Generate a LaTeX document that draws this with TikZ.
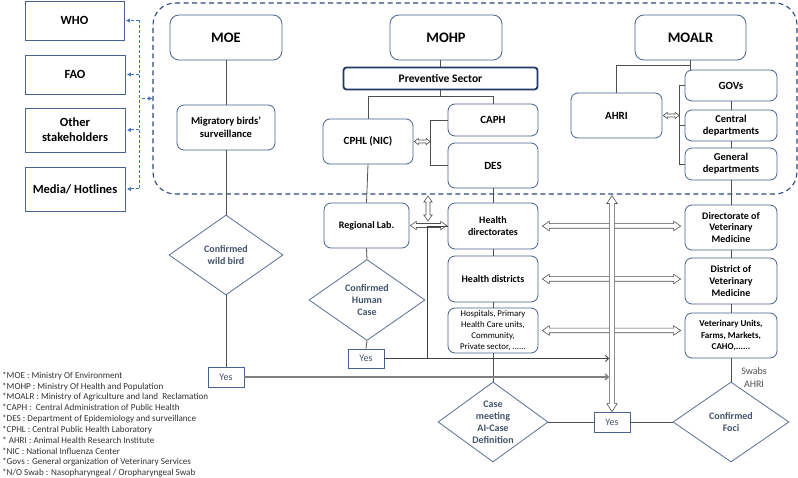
\documentclass[tikz,border=0pt]{standalone}
\usepackage{fontspec}
\setmainfont{Carlito}
\usetikzlibrary{shapes.geometric,arrows.meta,calc}
\definecolor{bord}{HTML}{4A6290}
\definecolor{navy}{HTML}{1F3864}
\definecolor{panelc}{HTML}{2F4A7A}
\definecolor{diab}{HTML}{5B6E96}
\definecolor{diat}{HTML}{44546A}
\definecolor{cgray}{HTML}{505050}
\definecolor{lgray}{HTML}{7F7F7F}
\definecolor{oblue}{HTML}{4472C4}
% hollow double-headed block arrow between two named coordinates:
% #1 start, #2 end, #3 shaft half width, #4 head half width, #5 head length
\newcommand\blkarrow[5]{%
  \coordinate (bkA) at (#1);
  \coordinate (bkB) at (#2);
  \coordinate (bkA1) at ($(bkA)!#5!(bkB)$);
  \coordinate (bkB1) at ($(bkB)!#5!(bkA)$);
  \draw[blk] (bkA) -- ($(bkA1)!#4!90:(bkB)$) -- ($(bkA1)!#3!90:(bkB)$)
    -- ($(bkB1)!#3!-90:(bkA)$) -- ($(bkB1)!#4!-90:(bkA)$) -- (bkB)
    -- ($(bkB1)!#4!90:(bkA)$) -- ($(bkB1)!#3!90:(bkA)$)
    -- ($(bkA1)!#3!-90:(bkB)$) -- ($(bkA1)!#4!-90:(bkB)$) -- cycle;}
\begin{document}
\begin{tikzpicture}[x=1pt,y=-1pt,
  rbox/.style={draw=bord, line width=0.8pt, rounded corners=7pt, fill=white, align=center,
    font=\bfseries\fontsize{11}{13}\selectfont, inner sep=1pt},
  bigbox/.style={rbox, rounded corners=9pt, font=\bfseries\fontsize{14.5}{17}\selectfont, minimum height=45pt},
  sbox/.style={draw=bord, line width=0.8pt, align=center, font=\bfseries\fontsize{12.5}{15}\selectfont, inner sep=1pt},
  dia/.style={diamond, aspect=1.4, draw=diab, line width=0.8pt, align=center, text=diat,
    font=\bfseries\fontsize{10}{12}\selectfont, inner sep=0pt},
  yesbox/.style={draw=bord, line width=0.9pt, text=diat, font=\fontsize{10}{12}\selectfont,
    minimum width=36pt, minimum height=20pt, inner sep=0pt},
  conn/.style={draw=cgray, line width=0.8pt},
  blk/.style={draw=cgray, line width=0.6pt, fill=white, line join=miter},
  thinarr/.style={-{Straight Barb[length=3pt,width=6pt]}},
  blued/.style={draw=oblue, line width=1pt, dash pattern=on 3pt off 2pt},
  bluearr/.style={blued, -{Latex[length=4pt,width=4.5pt]}},
  panelbox/.style={draw=panelc, line width=1.1pt, dash pattern=on 5pt off 3.5pt, rounded corners=22pt, inner sep=0pt}
]
\useasboundingbox[fill=white] (0,0) rectangle (798,478);

% left boxes
\node[sbox, minimum width=99pt, minimum height=39pt] (who) at (74.5,20.5) {WHO};
\node[sbox, minimum width=100pt, minimum height=39pt] (fao) at (75,74.5) {FAO};
\node[sbox, minimum width=100pt, minimum height=44pt] (oth) at (75,130) {Other\\stakeholders};
\node[sbox, minimum width=100pt, minimum height=44pt] (med) at (75,189) {Media/ Hotlines};

% panel
\node[panelbox, minimum width=644pt, minimum height=191pt] (panel) at (475,98.5) {};

% blue dashed connectors
\coordinate (bt) at (139,20.5);
\coordinate (bb) at (139,189);
\draw[blued] (bt) -- (bb);
\draw[bluearr] (bt) -- ($(who.east)+(1.5,0)$);
\draw[bluearr] (bt |- fao.east) -- ($(fao.east)+(1.5,0)$);
\draw[bluearr] (bt |- oth.east) -- ($(oth.east)+(1.5,0)$);
\draw[bluearr] (bb) -- ($(med.east)+(1.5,0)$);
\draw[bluearr] ($(bt |- panel.west)+(3,0)$) -- (panel.west);

% MOE column
\node[bigbox, minimum width=112pt] (moe) at (226,37.5) {MOE};
\node[rbox, minimum width=98pt, minimum height=45pt, font=\bfseries\fontsize{10.5}{13}\selectfont] (mig) at (226,127.5) {Migratory birds’\\surveillance};
\node[dia, minimum width=114pt, minimum height=80pt] (wild) at (226,255) {Confirmed\\wild bird};
\node[yesbox] (yes1) at (226,377) {Yes};

% MOHP column
\node[bigbox, minimum width=112pt] (mohp) at (446,37.5) {MOHP};
\node[draw=navy, line width=1.8pt, rounded corners=3pt, minimum width=194pt, minimum height=22pt, inner sep=0pt,
  font=\bfseries\fontsize{11.5}{13}\selectfont] (prev) at (440.5,78.5) {Preventive Sector};
\node[rbox, minimum width=90pt, minimum height=45pt] (cphl) at (368,141.5) {CPHL (NIC)};
\node[rbox, minimum width=90pt, minimum height=32pt] (caph) at (493,120) {CAPH};
\node[rbox, minimum width=90pt, minimum height=45pt] (des) at (493,165.5) {DES};
\node[rbox, minimum width=85pt, minimum height=45pt, font=\bfseries\fontsize{10}{12}\selectfont] (reglab) at (366.5,225.5) {Regional Lab.};
\node[dia, minimum width=116pt, minimum height=81pt] (human) at (367,300) {Confirmed\\Human\\Case};
\node[yesbox, minimum height=19pt] (yes2) at (366,358.5) {Yes};
\node[rbox, minimum width=90pt, minimum height=46pt, font=\bfseries\fontsize{10}{12}\selectfont] (hdir) at (493,226) {Health\\directorates};
\node[rbox, minimum width=90pt, minimum height=46pt, font=\bfseries\fontsize{10}{12}\selectfont] (hdist) at (493,279) {Health districts};
\node[rbox, minimum width=90pt, minimum height=45pt, font=\fontsize{8.8}{10.9}\selectfont] (hosp) at (493,330.5) {Hospitals, Primary\\Health Care units,\\Community,\\Private sector, ......};
\node[dia, minimum width=110pt, minimum height=80pt] (casedef) at (493,422) {Case\\meeting\\AI-Case\\Definition};

% MOALR column
\node[bigbox, minimum width=111pt] (moalr) at (690.5,37.5) {MOALR};
\node[rbox, minimum width=91pt, minimum height=45pt] (ahri) at (616.5,115.5) {AHRI};
\node[rbox, minimum width=92pt, minimum height=31pt] (govs) at (731,85.5) {GOVs};
\node[rbox, minimum width=92pt, minimum height=31pt, font=\bfseries\fontsize{10.5}{12}\selectfont] (central) at (731,125.5) {Central\\departments};
\node[rbox, minimum width=92pt, minimum height=32pt, font=\bfseries\fontsize{10.5}{12}\selectfont] (general) at (731,164) {General\\departments};
\node[rbox, minimum width=92pt, minimum height=45pt, font=\bfseries\fontsize{10}{11.8}\selectfont] (dirvet) at (731,227.5) {Directorate of\\Veterinary\\Medicine};
\node[rbox, minimum width=92pt, minimum height=46pt, font=\bfseries\fontsize{10}{11.8}\selectfont] (distvet) at (731,281) {District of\\Veterinary\\Medicine};
\node[rbox, minimum width=92pt, minimum height=45pt, font=\bfseries\fontsize{9}{11.5}\selectfont] (vet) at (731,335.5) {Veterinary Units,\\Farms, Markets,\\CAHO,......};
\node[dia, minimum width=116pt, minimum height=80pt] (foci) at (731,422) {Confirmed\\Foci};
\node[yesbox] (yes3) at (612,422) {Yes};
\node[text=cgray, align=center, font=\fontsize{10}{13}\selectfont, inner sep=0pt] (swab) at (754,378) {Swabs\\AHRI};

% legend
\node[anchor=north west, align=left, inner sep=0pt, text=black!80, font=\fontsize{9.1}{10.85}\selectfont] (legend) at (2,371.5)
{*MOE : Ministry Of Environment\\
*MOHP : Ministry Of Health and Population\\
*MOALR : Ministry of Agriculture and land\ \ Reclamation\\
*CAPH :\ \ Central Administration of Public Health\\
*DES : Department of Epidemiology and surveillance\\
*CPHL : Central Public Health Laboratory\\
*\ AHRI : Animal Health Research Institute\\
*NIC : National Influenza Center\\
*Govs : General organization of Veterinary Services\\
*N/O Swab : Nasopharyngeal / Oropharyngeal Swab};

% MOE connectors
\draw[conn] (moe.south) -- (mig.north);
\draw[conn] (mig.south) -- (wild.north);
\draw[conn] (wild.south) -- (yes1.north);

% MOHP connectors
\draw[conn] (prev.north) -- (prev.north |- mohp.south);
\draw[conn] (prev.south) -- ++(0,6.5) coordinate (pj);
\draw[conn] (cphl.north) |- (pj) -| (caph.north);
\draw[conn] (caph.west) -- ++(-17,0) coordinate (lb) |- (des.west);
\draw[conn] (cphl.south) -- (reglab.north);
\draw[conn] (reglab.south) -- (human.north);
\draw[conn] (human.south) -- (yes2.north);
\draw[conn] (des.south) -- (hdir.north);
\draw[conn] (hdir.south) -- (hdist.north);
\draw[conn] (hdist.south) -- (hosp.north);
\draw[conn] (hosp.south) -- (casedef.north);

% MOALR connectors
\draw[conn] (moalr.south) -- (moalr.south |- govs.north);
\draw[conn] ($(moalr.south)+(0,5)$) -| (ahri.north);
\draw[conn] (govs.west) -- ++(-5,0) coordinate (rb) |- (general.west);
\draw[conn] (central.west) -- (central.west -| rb);
\draw[conn] (govs.south) -- (central.north);
\draw[conn] (central.south) -- (general.north);
\draw[conn] (general.south) -- (dirvet.north);
\draw[conn] (dirvet.south) -- (distvet.north);
\draw[conn] (distvet.south) -- (vet.north);
\draw[conn] (vet.south) -- (foci.north);

% lower horizontal links
\draw[conn] (casedef.east) -- (yes3.west);
\draw[conn] (yes3.east) -- (foci.west);

% small block arrows to the brackets
\coordinate (c1) at ($(cphl.east)+(1,0)$);
\coordinate (c2) at ($(cphl.east -| lb)+(-0.5,0)$);
\blkarrow{c1}{c2}{1.5pt}{3.2pt}{4pt}
\coordinate (a1) at ($(ahri.east)+(1,0)$);
\coordinate (a2) at ($(ahri.east -| rb)+(-0.5,0)$);
\blkarrow{a1}{a2}{1.5pt}{3.2pt}{4pt}

% block arrows between health and veterinary
\coordinate (j2) at (427,226);
\coordinate (r1) at ($(reglab.east)+(1,0)$);
\coordinate (r2) at ($(reglab.east -| hdir.west)+(-1,0)$);
\blkarrow{r1}{r2}{2pt}{4.2pt}{6pt}
\coordinate (v1) at ($(panel.south -| j2)+(1,1.5)$);
\coordinate (v2) at ($(j2)+(1,-5)$);
\blkarrow{v1}{v2}{2pt}{4.2pt}{6pt}
\coordinate (h1) at ($(hdir.east)+(4,0)$);
\coordinate (h2) at ($(hdir.east -| dirvet.west)+(-4,0)$);
\blkarrow{h1}{h2}{2.3pt}{4.8pt}{7pt}
\coordinate (d1) at ($(hdist.east)+(4,0)$);
\coordinate (d2) at ($(hdist.east -| distvet.west)+(-4,0)$);
\blkarrow{d1}{d2}{2.3pt}{4.8pt}{7pt}
\coordinate (p1) at ($(hosp.east)+(4,0)$);
\coordinate (p2) at ($(hosp.east -| vet.west)+(-4,0)$);
\blkarrow{p1}{p2}{2.3pt}{4.8pt}{7pt}

% Yes links
\draw[draw=black!75, line width=0.9pt] (yes2.east) -| (j2) -- (hdir.west);
\draw[draw=black!75, line width=0.8pt, thinarr] (yes2.east) -- ($(yes2.east -| yes3.north)+(-3,0)$);
\draw[draw=lgray, line width=1.3pt, thinarr] (yes1.east) -- ($(yes1.east -| yes3.north)+(-3,0)$);

% big vertical block arrow
\coordinate (t1) at ($(panel.south -| yes3.north)+(0,1)$);
\coordinate (t2) at (yes3.north);
\blkarrow{t1}{t2}{2.6pt}{5.2pt}{8pt}
\end{tikzpicture}
\end{document}
